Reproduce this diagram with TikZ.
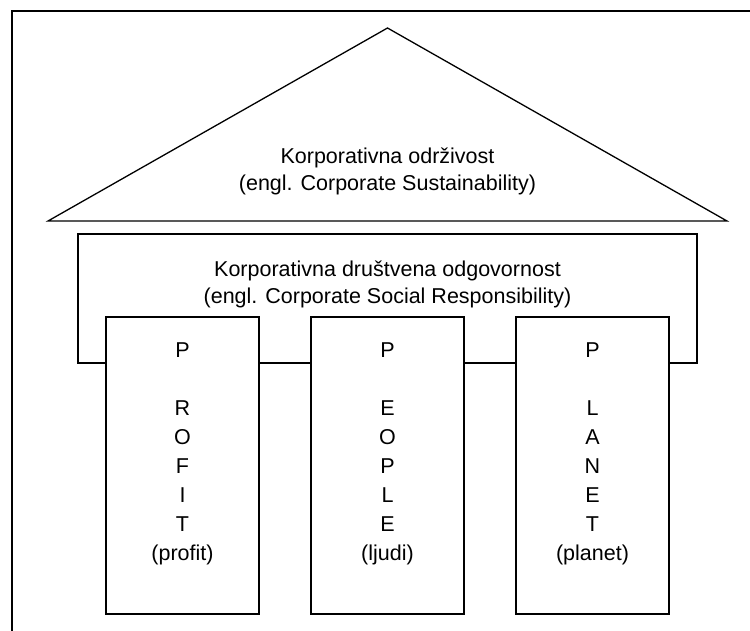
\documentclass[tikz,border=0pt]{standalone}
\usepackage{fontspec}
\setmainfont{Liberation Sans}
\begin{document}
\begin{tikzpicture}[x=1pt,y=-1pt,
  shape line/.style={draw=black,line width=1.3pt},
  pillar/.style={shape line,fill=white,rectangle,minimum width=153pt,minimum height=297pt,inner sep=0pt},
  txt/.style={font=\fontsize{21.5}{27}\selectfont,align=center,inner sep=0pt},
  ptxt/.style={font=\fontsize{21.5}{29}\selectfont,align=center,inner sep=0pt}]
\useasboundingbox (0,0) rectangle (750,631);
% frame
\draw[line width=1.8pt] (12,631) -- (12,11) -- (750,11);
% roof
\coordinate (apex) at (387.5,28);
\coordinate (bl) at (48,221);
\coordinate (br) at (727,221);
\draw[shape line] (apex) -- (bl) -- (br) -- cycle;
\node[txt] (cs) at (387.5,171) {Korporativna održivost\\(engl. Corporate Sustainability)};
% CSR box
\node[shape line,rectangle,minimum width=619pt,minimum height=129pt,inner sep=0pt] (csr) at (387.5,298.5) {};
\node[txt] (csrt) at (387.5,284) {Korporativna društvena odgovornost\\(engl. Corporate Social Responsibility)};
% pillars
\node[pillar] (p1) at (182.5,465.5) {};
\node[pillar] (p2) at (387.5,465.5) {};
\node[pillar] (p3) at (592.5,465.5) {};
\node[ptxt] (t1) at (182.5,454) {P\\[29pt]R\\O\\F\\I\\T\\(profit)};
\node[ptxt] (t2) at (387.5,454) {P\\[29pt]E\\O\\P\\L\\E\\(ljudi)};
\node[ptxt] (t3) at (592.5,454) {P\\[29pt]L\\A\\N\\E\\T\\(planet)};
\end{tikzpicture}
\end{document}
